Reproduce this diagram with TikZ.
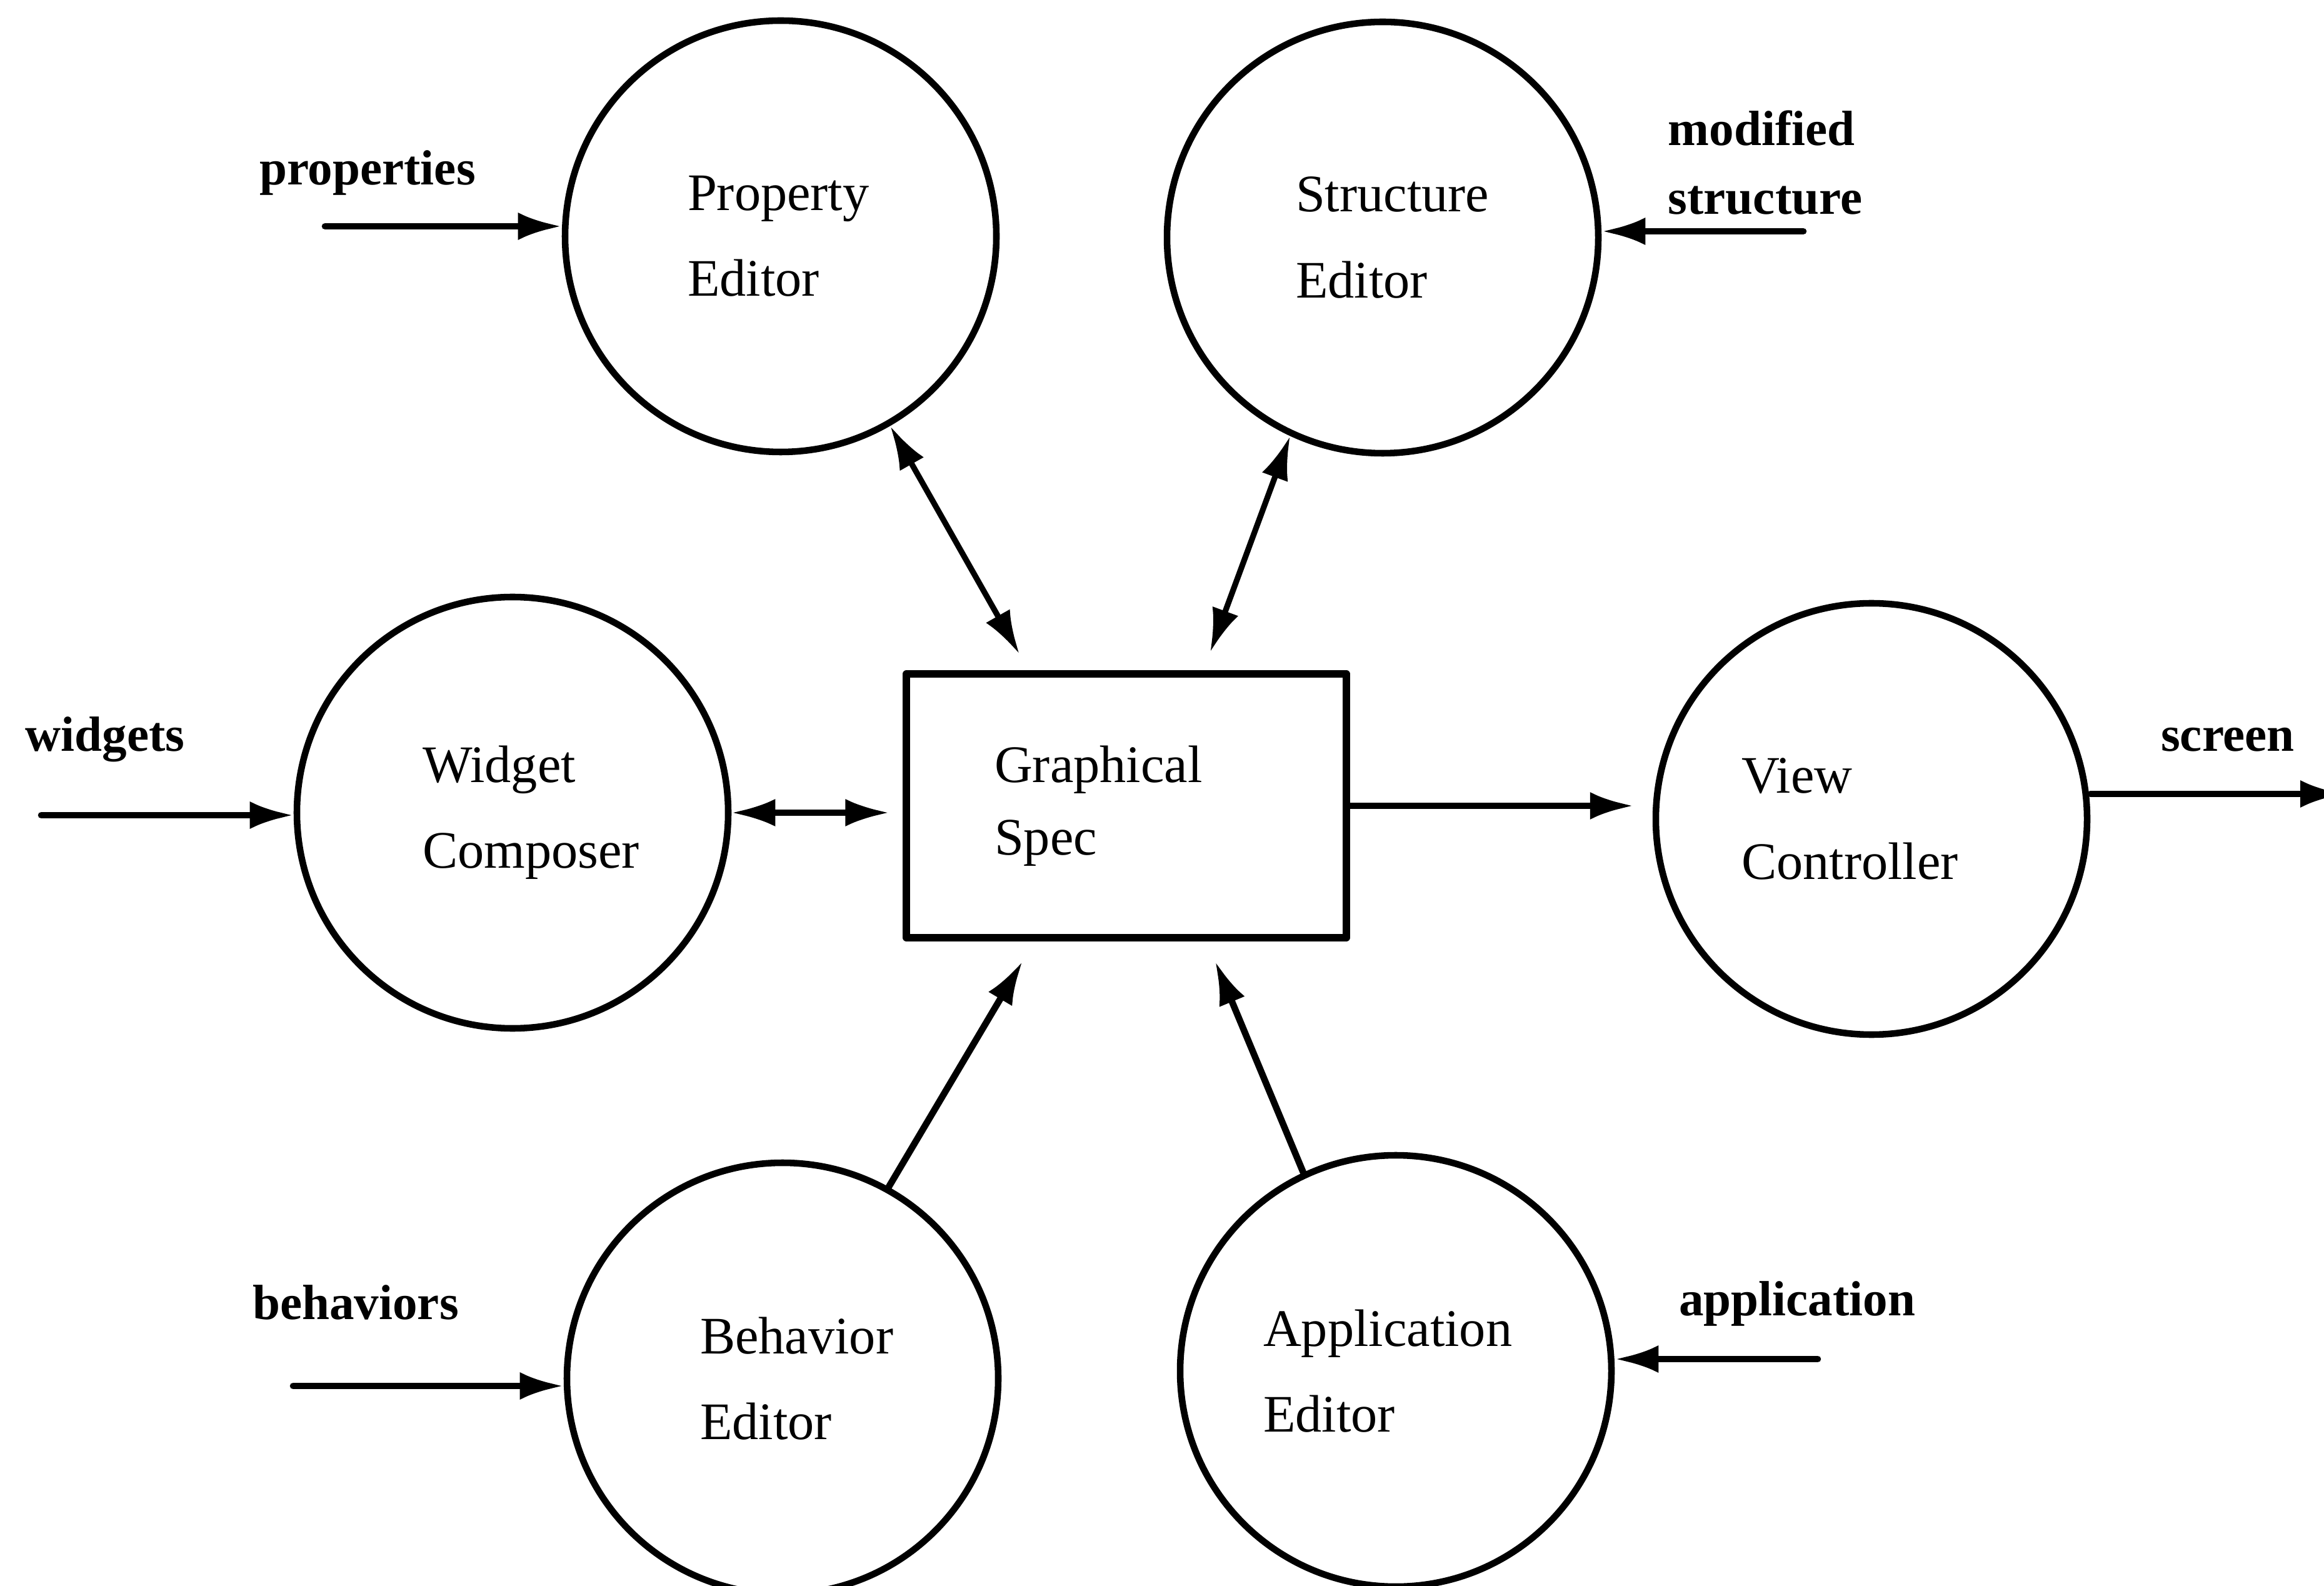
\documentclass[tikz,border=0pt]{standalone}
\usepackage{fontspec}
\setmainfont{Liberation Serif}
\usetikzlibrary{arrows.meta,calc,positioning}
\tikzset{
  every picture/.append style={line cap=round,line join=round},
  ui editor/.style={circle,draw,line width=3pt,minimum size=6.9cm,inner sep=0pt,align=left,text width=#1,font=\fontsize{24}{39}\selectfont},
  ui editor/.default=3cm,
  ui spec/.style={rectangle,draw,line width=3.2pt,minimum width=7.04cm,minimum height=4.22cm,inner xsep=1.41cm,text width=4.22cm,align=left,font=\fontsize{24}{33}\selectfont},
  ui flow/.style={line width=3pt,-{Latex[length=7mm,width=4.4mm]}},
  ui link/.style={line width=2.6pt,{Latex[length=7mm,width=4.4mm]}-{Latex[length=7mm,width=4.4mm]}},
  ui label/.style={font=\bfseries\fontsize{22.5}{31.5}\selectfont,align=left,inner sep=0pt}
}

\begin{document}
\begin{tikzpicture}
\useasboundingbox (0,0) rectangle (37.18,25.36);
\node[ui spec] (spec) at (18.02,12.47) {Graphical\\Spec};
\node[ui editor=2.98cm] (prop) at (12.49,21.58) {Property\\Editor};
\node[ui editor=2.78cm] (struct) at (22.12,21.56) {Structure\\Editor};
\node[ui editor=2.88cm] (widget) at (8.20,12.36) {Widget\\Composer};
\node[ui editor=4.16cm] (view) at (29.94,12.26) {View\\Controller};
\node[ui editor=2.64cm] (behav) at (12.52,3.31) {Behavior\\Editor};
\node[ui editor=4.24cm] (app) at (22.33,3.43) {Application\\Editor};

\node[ui label,anchor=base] (propslbl) at (5.88,22.40) {properties};
\node[ui label,anchor=base west] (structlbl) at (26.68,21.93) {modified\\structure};
\node[ui label,anchor=base] (widgetslbl) at (1.68,13.34) {widgets};
\node[ui label,anchor=base] (screenlbl) at (35.64,13.34) {screen};
\node[ui label,anchor=base] (behavlbl) at (5.69,4.26) {behaviors};
\node[ui label,anchor=base] (applbl) at (28.75,4.32) {application};

\coordinate (propsin) at (5.20,21.74);
\coordinate (structin) at (28.85,21.66);
\coordinate (widgetsin) at (0.66,12.32);
\coordinate (screenout) at (37.50,12.66);
\coordinate (behavin) at (4.69,3.19);
\coordinate (appin) at (29.08,3.62);

\draw[ui flow] (propsin) -- (propsin -| prop.west);
\draw[ui flow] (structin) -- (structin -| struct.east);
\draw[ui flow] (widgetsin) -- (widgetsin -| widget.west);
\draw[ui flow] (screenout -| view.east) -- (screenout);
\draw[ui flow] (behavin) -- (behavin -| behav.west);
\draw[ui flow] (appin) -- (appin -| app.east);

\draw[ui link] (prop.300) -- ([shift={(-1.71,0.26)}]spec.north);
\draw[ui link] (struct.245.6) -- ([shift={(1.34,0.29)}]spec.north);
\draw[ui link,shorten >=0.22cm] (widget.east) -- (widget.east -| spec.west);
\draw[ui flow,shorten >=0.3cm] (spec.east) -- (spec.east -| view.west);
\draw[ui flow] (behav.61) -- ([shift={(-1.66,-0.32)}]spec.south);
\draw[ui flow] (app.115) -- ([shift={(1.42,-0.32)}]spec.south);
\end{tikzpicture}
\end{document}
